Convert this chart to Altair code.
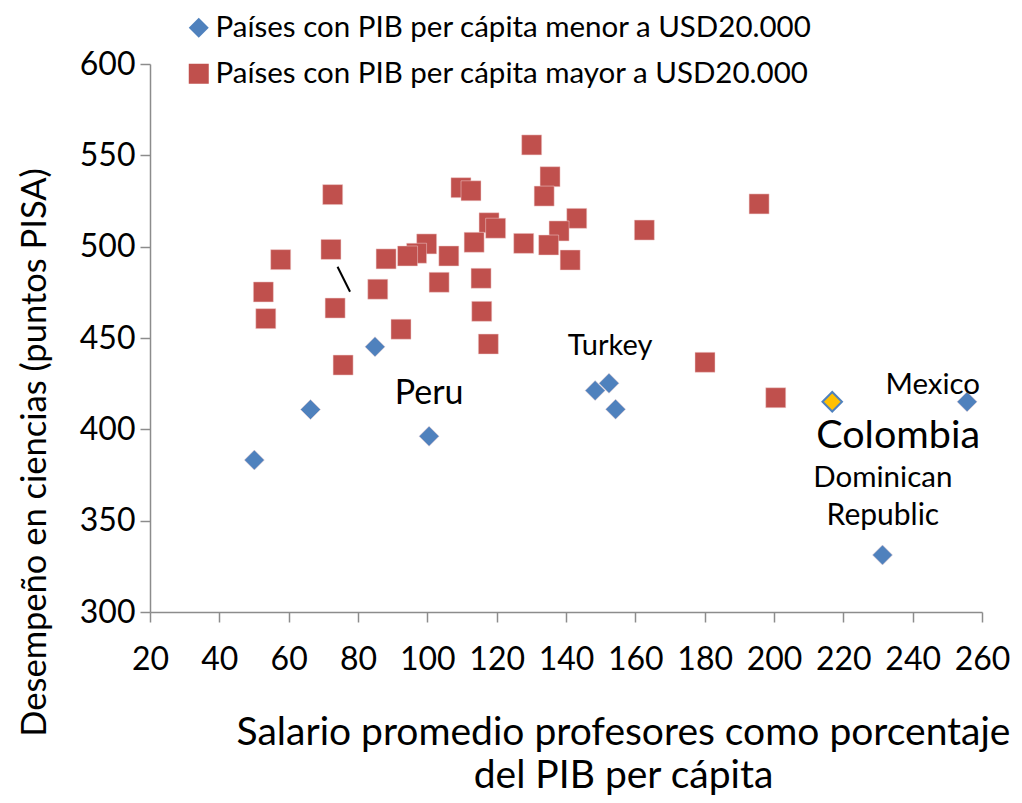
import altair as alt
import pandas as pd

FONT = "Lato"

# Países con PIB per cápita mayor a USD20.000 (red squares)
mayor_x = [130.1, 135.4, 133.7, 109.7, 112.6, 117.8, 119.7, 143.1, 138.0, 162.6,
           99.8, 96.9, 94.3, 88.1, 106.2, 113.5, 127.8, 135.0, 141.2, 103.4,
           85.7, 115.5, 115.7, 92.4, 117.6, 72.7, 72.2, 57.7, 52.7, 53.4,
           73.4, 75.7, 195.7, 180.1, 200.5]
mayor_y = [555.7, 538.3, 527.7, 532.3, 530.6, 513.1, 510.1, 515.5, 508.6, 509.1,
           501.5, 496.4, 494.9, 493.3, 494.9, 502.4, 501.8, 500.9, 492.7, 480.5,
           476.7, 482.7, 464.6, 454.8, 446.7, 528.5, 498.5, 492.9, 475.2, 460.6,
           466.4, 435.2, 523.4, 436.7, 417.3]

# Países con PIB per cápita menor a USD20.000 (blue diamonds)
menor_x = [50.1, 66.3, 84.9, 100.5, 148.4, 152.4, 154.3, 231.3, 255.7]
menor_y = [383.2, 410.8, 445.2, 396.2, 421.2, 425.2, 411.0, 331.2, 415.1]

# Colombia (highlighted)
col_x = [216.8]
col_y = [415.1]

# Country labels
lab_text = ["Turkey", "Peru", "Mexico", "Colombia", "Dominican", "Republic"]
lab_x = [152.7, 100.5, 245.8, 235.8, 231.4, 231.4]
lab_y = [445.6, 419.3, 424.3, 396.4, 373.4, 352.6]
lab_fs = [29, 34, 29.5, 39.5, 29.5, 30]

# Leader line near the upper-left squares
lead_x = [74.1]
lead_y = [489.0]
lead_x2 = [77.7]
lead_y2 = [475.3]

x_ticks = list(range(20, 261, 20))
y_ticks = list(range(300, 601, 50))

G_MENOR = "Países con PIB per cápita menor a USD20.000"
G_MAYOR = "Países con PIB per cápita mayor a USD20.000"

pts = pd.DataFrame({
    "x": menor_x + mayor_x,
    "y": menor_y + mayor_y,
    "grupo": [G_MENOR] * len(menor_x) + [G_MAYOR] * len(mayor_x),
})
col_df = pd.DataFrame({"x": col_x, "y": col_y})
lab_df = pd.DataFrame({"t": lab_text, "x": lab_x, "y": lab_y, "fs": lab_fs})
lead_df = pd.DataFrame({"x": lead_x, "y": lead_y, "x2": lead_x2, "y2": lead_y2})

xscale = alt.Scale(domain=[20, 260], nice=False, zero=False)
yscale = alt.Scale(domain=[300, 600], nice=False, zero=False)

xaxis = alt.Axis(
    values=x_ticks, grid=False, tickSize=10, labelFontSize=32, labelFont=FONT,
    labelPadding=22, domainColor="#8c8c8c", tickColor="#8c8c8c", domainWidth=1.5,
    tickWidth=1.5, labelColor="black",
    title=["Salario promedio profesores como porcentaje", "del PIB per cápita"],
    titleFont=FONT, titleFontSize=39, titleFontWeight="normal", titleColor="black",
    titleX=473, titleY=101, titleAlign="center", titleBaseline="top",
    titleLineHeight=43, labelFlush=False,
)
yaxis = alt.Axis(
    values=y_ticks, grid=False, tickSize=10, labelFontSize=32, labelFont=FONT,
    labelPadding=5, domainColor="#8c8c8c", tickColor="#8c8c8c", domainWidth=1.5,
    tickWidth=1.5, labelColor="black",
    title="Desempeño en ciencias (puntos PISA)",
    titleFont=FONT, titleFontSize=34.5, titleFontWeight="normal", titleColor="black",
    titleX=-115, titleY=388, titleAlign="center", titleBaseline="middle",
    titleAngle=270, labelFlush=False,
)

base_pts = alt.Chart(pts).mark_point(filled=True, opacity=1, size=400,
                                      stroke="#f0d0d0", strokeWidth=0.5).encode(
    x=alt.X("x:Q", scale=xscale, axis=xaxis),
    y=alt.Y("y:Q", scale=yscale, axis=yaxis),
    color=alt.Color("grupo:N",
                    scale=alt.Scale(domain=[G_MENOR, G_MAYOR], range=["#4f81bd", "#c0504d"]),
                    legend=alt.Legend(
                        title=None, orient="none", legendX=34, legendY=-51,
                        labelFont=FONT, labelFontSize=29.5, labelLimit=900,
                        symbolSize=400, rowPadding=15, labelOffset=2, padding=0,
                        symbolStrokeWidth=0, labelColor="black",
                    )),
    shape=alt.Shape("grupo:N",
                    scale=alt.Scale(domain=[G_MENOR, G_MAYOR], range=["diamond", "square"])),
)

col_pts = alt.Chart(col_df).mark_point(
    shape="diamond", filled=True, size=380, fill="#ffc000", stroke="#4f81bd",
    strokeWidth=2, opacity=1,
).encode(x=alt.X("x:Q", scale=xscale), y=alt.Y("y:Q", scale=yscale))

labels = alt.Chart(lab_df).mark_text(
    font=FONT, align="center", baseline="middle", color="black",
).encode(
    x=alt.X("x:Q", scale=xscale), y=alt.Y("y:Q", scale=yscale),
    text="t:N", size=alt.Size("fs:Q", scale=None),
)

lead = alt.Chart(lead_df).mark_rule(color="black", strokeWidth=2).encode(
    x=alt.X("x:Q", scale=xscale), y=alt.Y("y:Q", scale=yscale),
    x2="x2:Q", y2="y2:Q",
)

chart = alt.layer(base_pts, col_pts, lead, labels).properties(
    width=832, height=548,
    background="white",
    autosize=alt.AutoSizeParams(type="none"),
    padding={"left": 142, "top": 56, "right": 32, "bottom": 183},
).configure_view(strokeWidth=0, stroke="transparent")

chart.save("out.html", embed_options={"renderer": "svg", "actions": False})
